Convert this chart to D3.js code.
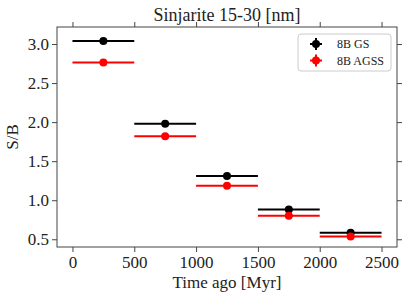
<!DOCTYPE html>
<html>
<head>
<meta charset="utf-8">
<script src="https://cdn.jsdelivr.net/npm/d3@7"></script>
<style>
  body { margin: 0; background: #fff; }
  svg text { font-family: 'Liberation Serif', 'DejaVu Serif', serif !important; fill: #222; }
</style>
</head>
<body>
<div id="chart"></div>
<script>
// bin centres and half widths (Myr)
let timeCenters = [250, 750, 1250, 1750, 2250];
let timeHalfWidth = [250, 250, 250, 250, 250];
// S/B for each solar model
let sbGS = [3.04, 1.98, 1.31, 0.88, 0.585];
let sbAGSS = [2.765, 1.82, 1.185, 0.80, 0.535];
let xTicks = [0, 500, 1000, 1500, 2000, 2500];
let yTicks = [0.5, 1.0, 1.5, 2.0, 2.5, 3.0];
let seriesNames = ["8B GS", "8B AGSS"];
let seriesColors = ["black", "red"];

let margin = {top: 27, right: 10, bottom: 53, left: 57};
let W = 407, H = 300;
let w = W - margin.left - margin.right;
let h = H - margin.top - margin.bottom;

let svg = d3.select("#chart").append("svg")
    .attr("width", W)
    .attr("height", H);

let g = svg.append("g")
    .attr("transform", `translate(${margin.left}, ${margin.top})`);

let x = d3.scaleLinear().domain([-125, 2625]).range([0, w]);
let y = d3.scaleLinear().domain([0.401, 3.218]).range([h, 0]);

// axes on all four sides
let fmtY = d3.format(".1f");
let axB = g.append("g").attr("transform", `translate(0, ${h})`)
    .call(d3.axisBottom(x).tickValues(xTicks).tickFormat(d3.format("d")).tickSize(5).tickPadding(4));
let axT = g.append("g")
    .call(d3.axisTop(x).tickValues(xTicks).tickSize(5).tickFormat(""));
let axL = g.append("g")
    .call(d3.axisLeft(y).tickValues(yTicks).tickFormat(fmtY).tickSize(5).tickPadding(3));
let axR = g.append("g").attr("transform", `translate(${w}, 0)`)
    .call(d3.axisRight(y).tickValues(yTicks).tickSize(5).tickFormat(""));

[axB, axT, axL, axR].forEach(a => {
    a.attr("font-family", null).attr("font-size", null);
    a.select(".domain").remove();
    a.selectAll("line").attr("stroke", "#444").attr("stroke-width", 1);
    a.selectAll("text").attr("font-size", 17);
});

g.append("rect")
    .attr("width", w).attr("height", h)
    .attr("fill", "none").attr("stroke", "#444").attr("stroke-width", 1);

// series
let series = [sbGS, sbAGSS];
series.forEach((vals, si) => {
    let rows = timeCenters.map((t, i) => ({t: t, hw: timeHalfWidth[i], v: vals[i]}));
    let sg = g.append("g");
    sg.selectAll("line")
        .data(rows).enter().append("line")
        .attr("x1", d => x(d.t - d.hw))
        .attr("x2", d => x(d.t + d.hw))
        .attr("y1", d => y(d.v))
        .attr("y2", d => y(d.v))
        .attr("stroke", seriesColors[si])
        .attr("stroke-width", 2);
    sg.selectAll("circle")
        .data(rows).enter().append("circle")
        .attr("cx", d => x(d.t))
        .attr("cy", d => y(d.v))
        .attr("r", 4)
        .attr("fill", seriesColors[si]);
});

// legend
let leg = g.append("g").attr("transform", `translate(${w - 99}, 7)`);
leg.append("rect")
    .attr("width", 93).attr("height", 37).attr("rx", 3)
    .attr("fill", "white").attr("fill-opacity", 0.8)
    .attr("stroke", "#ccc");
seriesNames.forEach((name, i) => {
    let cy = 10 + i * 16.5, cx = 18;
    leg.append("line").attr("x1", cx - 6).attr("x2", cx + 6).attr("y1", cy).attr("y2", cy)
        .attr("stroke", seriesColors[i]).attr("stroke-width", 2);
    leg.append("line").attr("x1", cx).attr("x2", cx).attr("y1", cy - 6).attr("y2", cy + 6)
        .attr("stroke", seriesColors[i]).attr("stroke-width", 2);
    leg.append("circle").attr("cx", cx).attr("cy", cy).attr("r", 4).attr("fill", seriesColors[i]);
    leg.append("text").attr("x", 39).attr("y", cy + 4)
        .attr("font-size", 12).text(name);
});

// title and axis labels
svg.append("text")
    .attr("x", margin.left + w / 2).attr("y", 21)
    .attr("text-anchor", "middle").attr("font-size", 18)
    .text("Sinjarite 15-30 [nm]");

svg.append("text")
    .attr("x", margin.left + w / 2).attr("y", 288)
    .attr("text-anchor", "middle").attr("font-size", 17)
    .text("Time ago [Myr]");

svg.append("text")
    .attr("transform", `translate(18, ${margin.top + h / 2}) rotate(-90)`)
    .attr("text-anchor", "middle").attr("font-size", 17)
    .text("S/B");
</script>
</body>
</html>
